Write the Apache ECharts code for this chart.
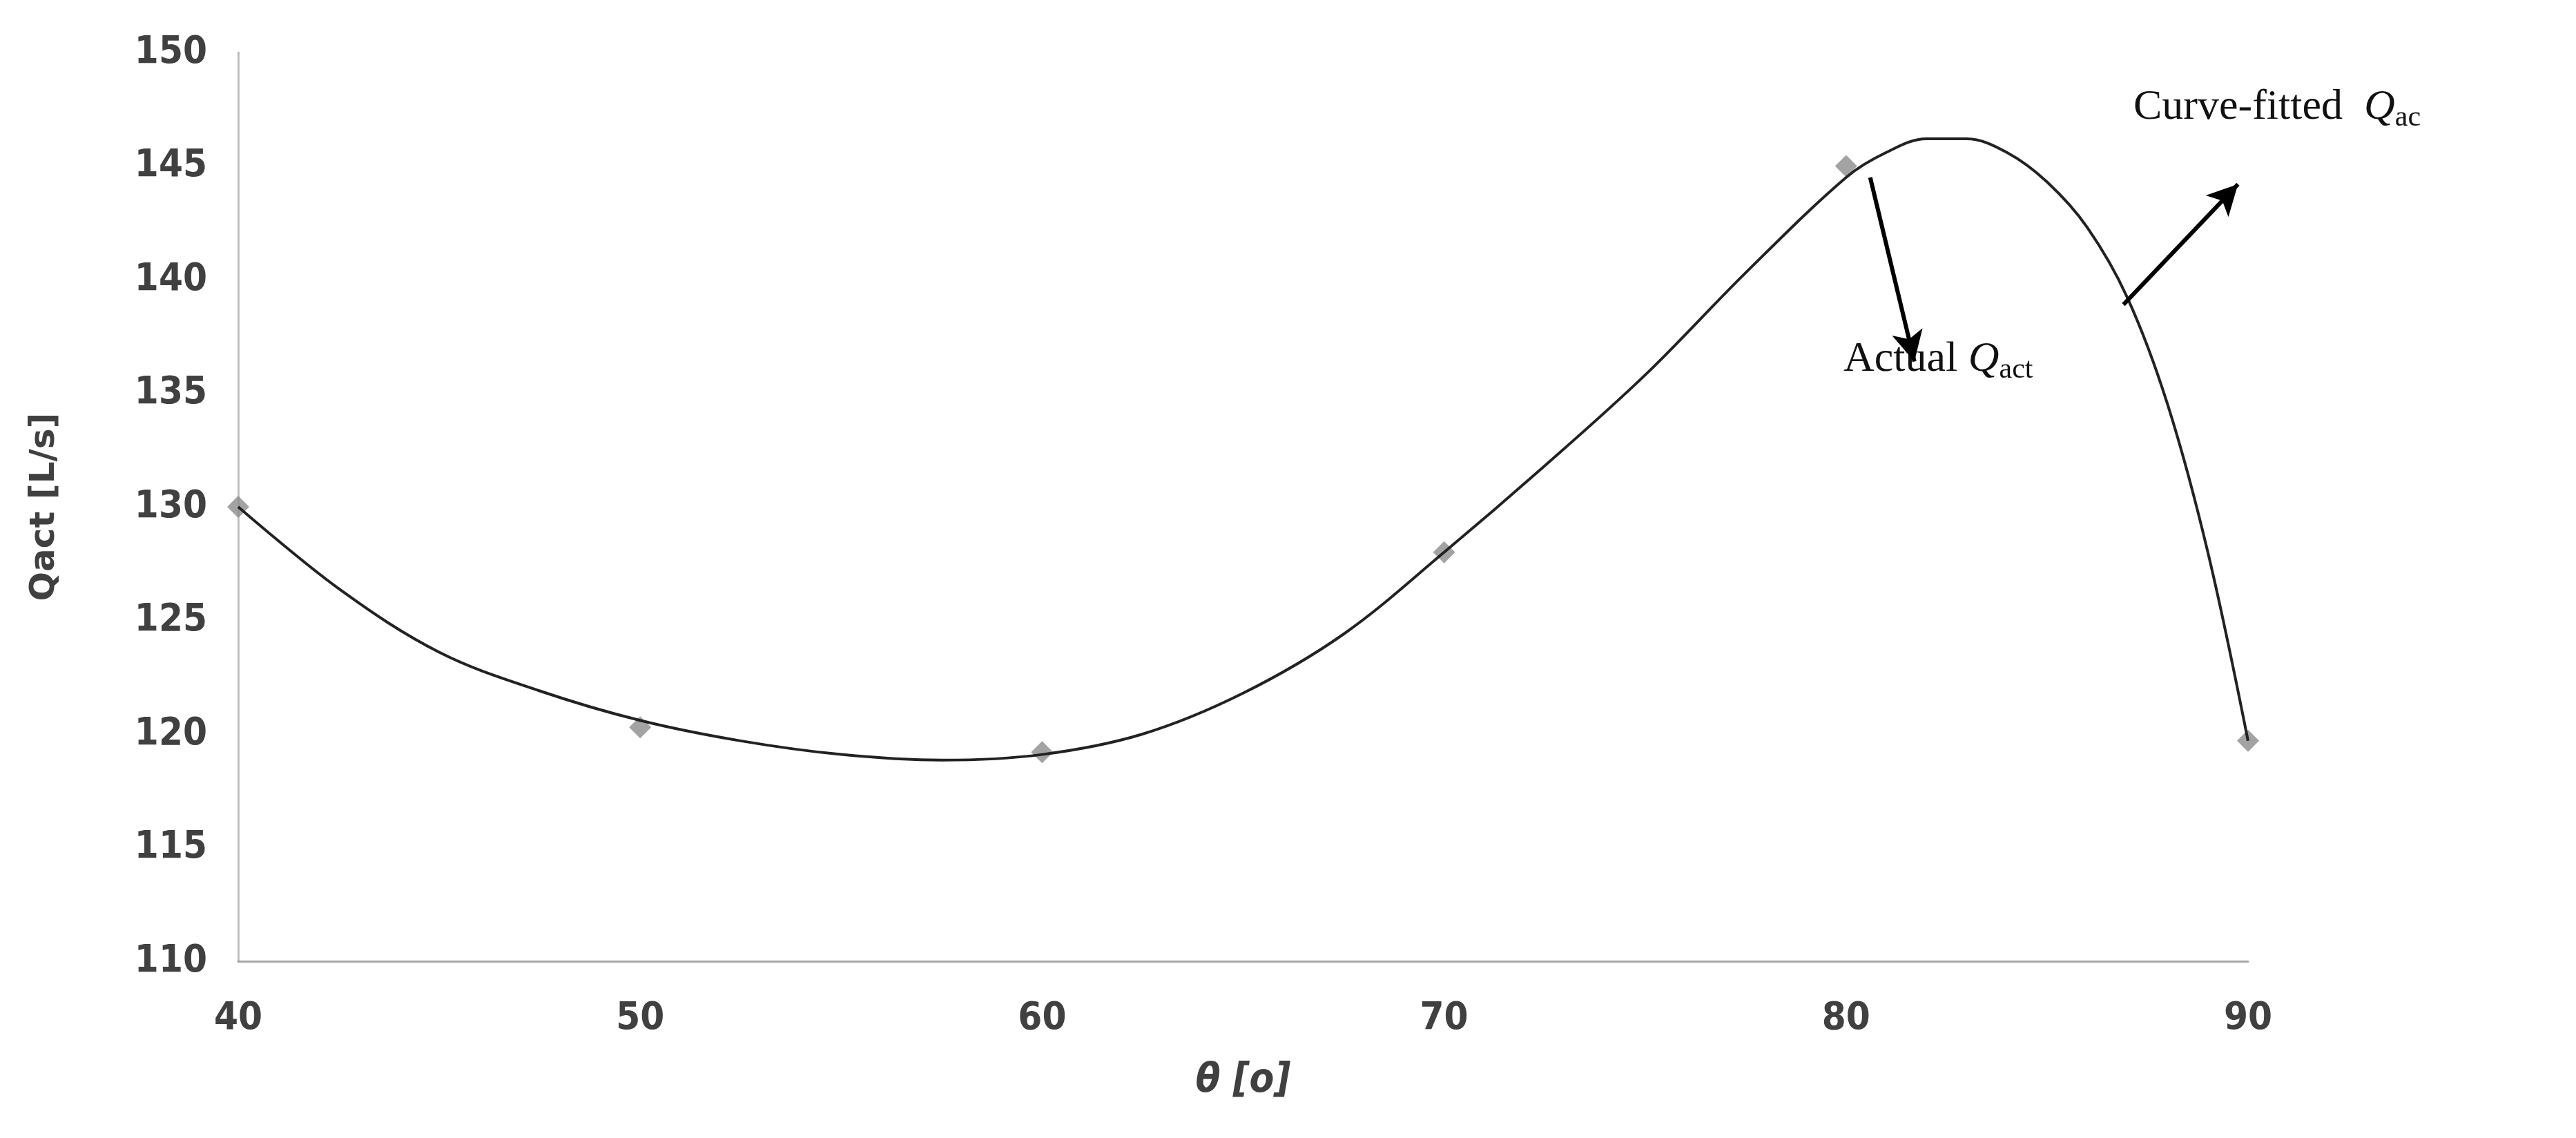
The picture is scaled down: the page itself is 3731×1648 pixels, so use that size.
<!DOCTYPE html>
<html>
<head>
<meta charset="utf-8">
<script src="https://cdn.jsdelivr.net/npm/echarts@6/dist/echarts.min.js"></script>
<style>html,body{margin:0;background:#fff}#c{width:3731px;height:1648px}</style>
</head>
<body>
<div id="c"></div>
<script>
// measured points
const thetaPts = [40, 50, 60, 70, 80, 90]
const qactPts = [130, 120.3, 119.2, 128, 145, 119.7]

// fitted curve
const curveX = [40, 42.5, 45, 47.5, 50, 52.5, 55, 57.5, 60, 62.5, 65, 67.5, 70, 72.5, 75, 77.5, 80, 81, 82, 83, 84, 85, 86, 87, 88, 89, 90]
const curveY = [130, 126.4, 123.6, 121.9, 120.6, 119.7, 119.1, 118.85, 119.1, 120, 121.8, 124.4, 128, 131.8, 135.8, 140.3, 144.5, 145.6, 146.2, 146.2, 145.6, 144.3, 142.3, 139.2, 134.5, 128, 119.7]

const xTicks = [40, 50, 60, 70, 80, 90]
const yTicks = [110, 115, 120, 125, 130, 135, 140, 145, 150]

const labelFont = '"DejaVu Sans Condensed", "Liberation Sans", sans-serif'

const chart = echarts.init(document.getElementById('c'))

const arrow = (a, b) => [{ coord: a, symbol: 'none' }, { coord: b, symbol: 'arrow', symbolSize: [34, 44] }]

chart.setOption({
  animation: false,
  grid: { left: 345, right: 475, top: 76, bottom: 256 },
  xAxis: {
    type: 'value', min: xTicks[0], max: xTicks[xTicks.length - 1], interval: 10,
    name: 'θ [o]', nameLocation: 'middle', nameGap: 145,
    nameTextStyle: { fontSize: 58, fontWeight: 'bold', fontStyle: 'italic', color: '#404040', fontFamily: labelFont },
    axisLine: { lineStyle: { color: '#a6a6a6', width: 3 } },
    axisTick: { show: false },
    splitLine: { show: false },
    axisLabel: { fontSize: 56, fontWeight: 'bold', color: '#404040', margin: 55, fontFamily: labelFont }
  },
  yAxis: {
    type: 'value', min: yTicks[0], max: yTicks[yTicks.length - 1], interval: 5,
    name: 'Qact [L/s]', nameLocation: 'middle', nameGap: 255,
    nameTextStyle: { fontSize: 50, fontWeight: 'bold', color: '#404040', fontFamily: 'DejaVu Sans' },
    axisLine: { show: true, lineStyle: { color: '#bfbfbf', width: 3 } },
    axisTick: { show: false },
    splitLine: { show: false },
    axisLabel: { fontSize: 56, fontWeight: 'bold', color: '#404040', margin: 45, fontFamily: labelFont }
  },
  series: [
    {
      type: 'line', smooth: 0.35, showSymbol: false,
      data: curveX.map((x, i) => [x, curveY[i]]),
      lineStyle: { color: '#222', width: 4 },
      markLine: {
        silent: true, animation: false,
        lineStyle: { color: '#000', width: 6, type: 'solid' },
        label: { show: false },
        data: [arrow([80.6, 144.5], [81.7, 136.4]), arrow([86.9, 138.9], [89.75, 144.2])]
      }
    },
    {
      type: 'scatter', symbol: 'diamond', symbolSize: 32,
      itemStyle: { color: '#8c8c8c' },
      data: thetaPts.map((x, i) => [x, qactPts[i]])
    }
  ],
  graphic: [
    {
      type: 'text', left: 2670, top: 490,
      style: {
        text: 'Actual {q|Q}{s|act}', fill: '#111', font: '62px "Liberation Serif"',
        rich: { q: { fontSize: 62, fontStyle: 'italic', fontFamily: 'Liberation Serif' }, s: { fontSize: 42, fontFamily: 'Liberation Serif', padding: [30, 0, 0, 0] } }
      }
    },
    {
      type: 'text', left: 3090, top: 125,
      style: {
        text: 'Curve-fitted  {q|Q}{s|ac}', fill: '#111', font: '62px "Liberation Serif"',
        rich: { q: { fontSize: 62, fontStyle: 'italic', fontFamily: 'Liberation Serif' }, s: { fontSize: 42, fontFamily: 'Liberation Serif', padding: [30, 0, 0, 0] } }
      }
    }
  ]
})
</script>
</body>
</html>
